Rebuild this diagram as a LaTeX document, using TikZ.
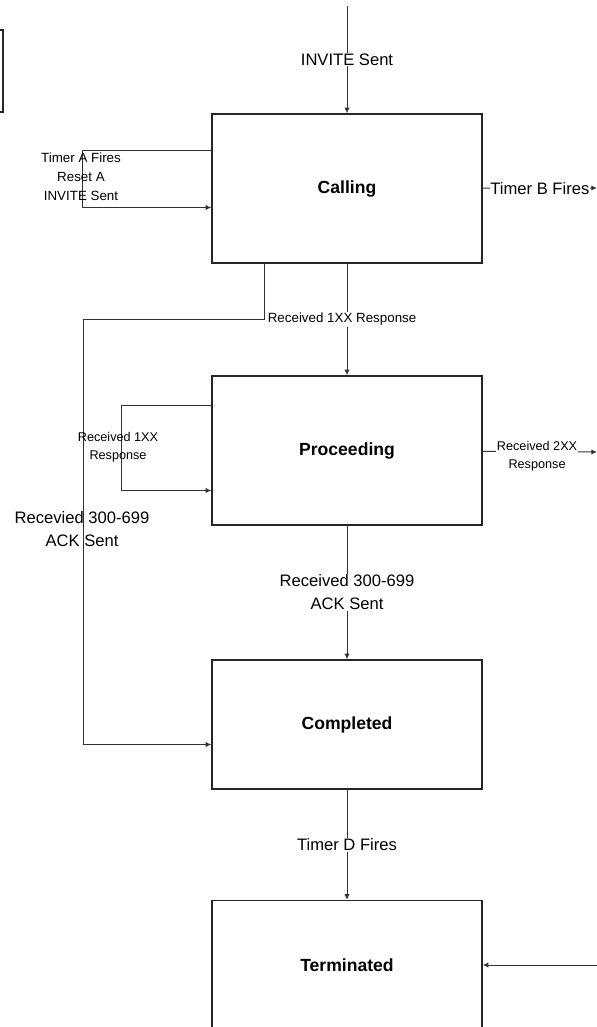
\documentclass[tikz,border=0pt]{standalone}
\usepackage{fontspec}
\setmainfont{Liberation Sans}
\usetikzlibrary{arrows.meta,calc}

\begin{document}
\begin{tikzpicture}[x=0.025cm, y=-0.025cm,
statebox/.style={draw=black!85, line width=1pt, minimum width=6.75cm, inner sep=0pt,
  font=\fontsize{12.5}{15}\selectfont\bfseries},
tallbox/.style={minimum height=3.725cm},
shortbox/.style={minimum height=3.225cm},
trans/.style={draw=black!80, line width=0.7pt, -{Latex[length=4pt,width=3.8pt]}},
lbl/.style={fill=white, inner sep=0.6pt, align=center, font=\fontsize{11.8}{16.3}\selectfont},
note/.style={inner sep=0pt, align=center, font=\fontsize{11.8}{16.3}\selectfont},
smallfont/.style={font=\fontsize{9.5}{13.6}\selectfont},
tinyfont/.style={font=\fontsize{9}{13}\selectfont}]

\useasboundingbox (0,0) rectangle (597,1027);
\clip (0,0) rectangle (597,1027);

%%%%%%%%%%%%%%%%%%%%%%%%%%%%%%%
\node [statebox, tallbox] (calling) at (347,188.5) {{Calling}};
\node [statebox, tallbox] (proceeding) at (347,450.5) {{Proceeding}};
\node [statebox, shortbox] (completed) at (347,724.5) {{Completed}};
\node [statebox, shortbox] (terminated) at (347,965) {{Terminated}};

\coordinate (invitein) at (347,6);
\coordinate (timerbout) at (597,188);
\coordinate (okout) at (597,452);
\coordinate (termin) at (597,965);

% cut-off box at the top left
\draw [black!85, line width=1pt] (-10,30) rectangle (3,112);

%%%%%%%%%%%%%%%%%%%%%%%%%%%%%%%
\draw [trans] (invitein) -- node [lbl] (invitelbl) {{INVITE Sent}} (calling);

\draw [trans] ($(calling.west)+(0,-38)$) -- ++(-129,0) |- ($(calling.west)+(0,19)$);
\node [note, smallfont] (retrylbl) at (81,177) {Timer A Fires\\Reset A\\INVITE Sent};

\draw [trans] (calling) -- node [lbl] (timeoutlbl) {{Timer B Fires}} (timerbout);

\draw [trans] (calling) -- node [lbl, smallfont, xshift=-3.5pt] (provlbl) {{Received 1XX Response}} (proceeding);

\draw [trans] ($(calling.south)+(-83,0)$) -- ++(0,56) -- ++(-181,0) |- ($(completed.west)+(0,20)$);
\node [note] (rejectlbl) at (82,529) {Recevied 300-699\\ACK Sent};

%%%%%%%%%%%%%%%%%%%%%%%%%%%%%%%
\draw [trans] ($(proceeding.west)+(0,-45)$) -- ++(-90,0) |- ($(proceeding.west)+(0,40)$);
\node [note, tinyfont] (provlooplbl) at (118,447) {Received 1XX\\Response};

\draw [trans] (proceeding) -- node [lbl, tinyfont, xshift=-2pt, yshift=-3.5pt] (oklbl) {Received 2XX\\Response} (okout);

\draw [trans] (proceeding) -- node [lbl] (acklbl) {Received 300-699\\ACK Sent} (completed);

%%%%%%%%%%%%%%%%%%%%%%%%%%%%%%%
\draw [trans] (completed) -- node [lbl] (timerdlbl) {{Timer D Fires}} (terminated);

\draw [trans] (termin) -- (terminated);

\end{tikzpicture}
\end{document}
